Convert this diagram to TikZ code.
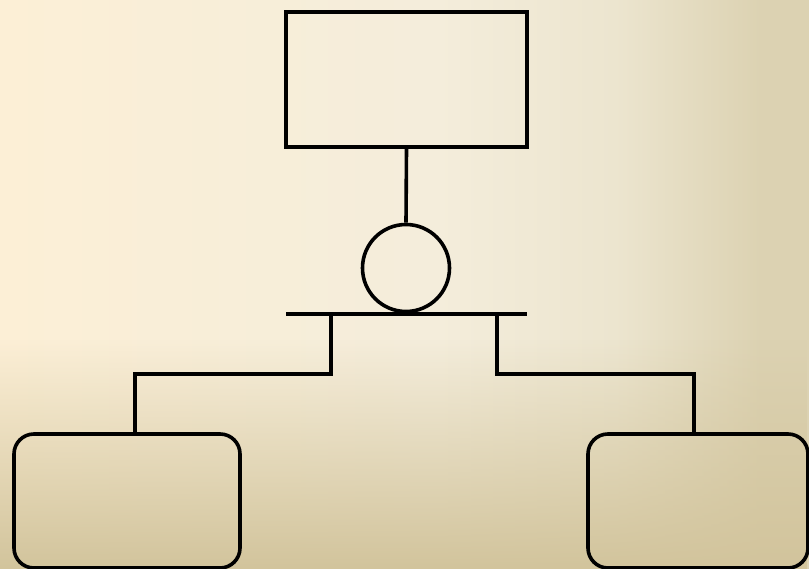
\documentclass[tikz,border=0pt]{standalone}
\usetikzlibrary{fadings}
\definecolor{bgleft}{RGB}{252,239,214}
\definecolor{bgmid}{RGB}{244,237,219}
\definecolor{bgmidb}{RGB}{236,229,207}
\definecolor{bgright}{RGB}{220,210,178}
\definecolor{bgbottom}{RGB}{210,196,156}
\pgfdeclarehorizontalshading{bgh}{100bp}{color(0bp)=(bgleft); color(25bp)=(bgleft); color(52bp)=(bgmid); color(63bp)=(bgmidb); color(72bp)=(bgright); color(100bp)=(bgright)}
\begin{document}
\begin{tikzpicture}[x=1pt,y=-1pt,line width=3.6pt,
  evbox/.style={draw=black,rectangle,inner sep=0pt},
  gatecirc/.style={draw=black,circle,inner sep=0pt,minimum size=87pt},
  basebox/.style={draw=black,rectangle,rounded corners=20pt,inner sep=0pt}]
\useasboundingbox (0,0) rectangle (809,569);
\begin{scope}
\clip (0,0) rectangle (809,569);
\shade[shading=bgh,draw=none] (0,0) rectangle (809,569);
\fill[color=bgbottom,path fading=north,draw=none] (0,340) rectangle (809,569);

\node[evbox,minimum width=241pt,minimum height=135pt] (top) at (406.5,79.5) {};
\node[gatecirc] (gate) at (406,268) {};
\coordinate (barL) at (286,314);
\coordinate (barR) at (527,314);
\coordinate (b1) at (331,314);
\coordinate (b2) at (497,314);
\coordinate (c1) at (135,374);
\coordinate (c2) at (694,374);
\node[basebox,minimum width=226pt,minimum height=134pt] (left) at (127,501) {};
\node[basebox,minimum width=220pt,minimum height=134pt] (right) at (698,501) {};

\draw (top.south) -- (gate.north);
\draw (barL) -- (barR);
\draw (b1) |- (c1) -- (c1 |- left.north);
\draw (b2) |- (c2) -- (c2 |- right.north);
\end{scope}
\end{tikzpicture}
\end{document}
